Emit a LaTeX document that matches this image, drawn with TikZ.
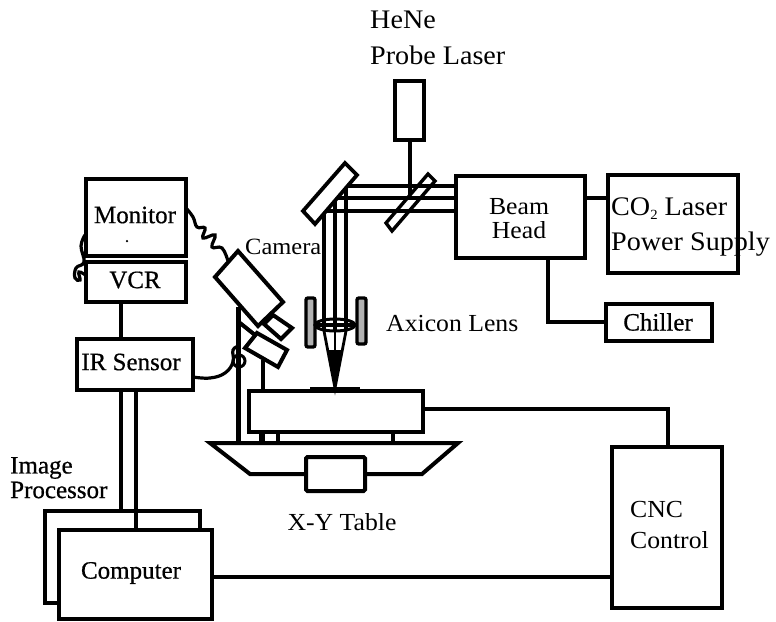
\documentclass[tikz,border=0pt]{standalone}
\usepackage{fontspec}
\setmainfont[FakeStretch=1.05]{Liberation Serif}
\newfontfamily\lblbold[FakeBold=0.6]{Liberation Serif}
\begin{document}
\begin{tikzpicture}[x=1pt,y=-1pt,
  line join=miter,
  box/.style={draw=black,line width=4pt,fill=white,inner sep=0pt,rectangle},
  wire/.style={draw=black,line width=4pt},
  thinwire/.style={draw=black,line width=3.2pt},
  beamline/.style={draw=black,line width=3.4pt},
  lbl/.style={inner sep=0pt,font=\fontsize{24.5}{26}\selectfont,text=black},
  lblbig/.style={inner sep=0pt,font=\fontsize{26.8}{28}\selectfont,text=black},
  lblsmall/.style={inner sep=0pt,font=\fontsize{23.3}{25}\selectfont,text=black},
  lblb/.style={inner sep=0pt,font=\fontsize{25}{26}\lblbold,text=black},
  plate/.style={draw=black,line width=3.4pt,fill=black!30,rounded corners=2pt}]
\useasboundingbox (0,0) rectangle (776,621);

% image processor + computer
\node[box,minimum width=155pt,minimum height=92pt] (proc) at (122.5,557) {};
\node[box,minimum width=153pt,minimum height=89pt] (comp) at (135.5,574.5) {};
\node[lblb] (compT) at (131,573) {Computer};

% monitor chain
\node[box,minimum width=100pt,minimum height=77pt] (mon) at (136,217.5) {};
\node[box,minimum width=100pt,minimum height=40pt] (vcr) at (136,282) {};
\node[box,minimum width=116pt,minimum height=51pt] (ir) at (135,364.5) {};
\node[lblb] (monT) at (135,215) {Monitor};
\node[lblb] (vcrT) at (135,280) {VCR};
\node[lblb] (irT) at (131,362) {IR Sensor};
\node[circle,fill=black,inner sep=0pt,minimum size=2.5pt] (dot) at (127,241) {};

\coordinate (a1) at (121,302);
\draw[wire] (a1) -- (a1 |- ir.north);
\coordinate (a2) at (121,390);
\draw[wire] (a2) -- (a2 |- proc.north);
\coordinate (a3) at (136,390);
\draw[wire] (a3) -- (a3 |- comp.north);

% CNC etc
\node[box,minimum width=110pt,minimum height=161pt] (cnc) at (667,527.5) {};
\node[lbl,anchor=west] (cncT) at (630,510) {CNC};
\node[lbl,anchor=west] (ctrlT) at (630,540) {Control};
\coordinate (c577) at (0,577);
\draw[wire] (comp.east |- c577) -- (cnc.west |- c577);

% table
\node[box,minimum width=174pt,minimum height=41pt] (tbl) at (336,411.5) {};
\draw[wire,fill=white] (210,443) -- (458,443) -- (422,474) -- (250,474) -- cycle;
\node[box,minimum width=59pt,minimum height=34pt,rounded corners=1.5pt] (xy) at (335.5,474) {};
\node[lbl] (xyT) at (342,522) {X-Y Table};
\coordinate (t409) at (668,409);
\draw[wire] (tbl.east |- t409) -- (t409) -- (t409 |- cnc.north);
\draw[line width=5.5pt] (262,432) -- (262,442);
\draw[line width=3.5pt] (278,432) -- (278,442);
\draw[line width=3.5pt] (393,432) -- (393,442);
\draw[line width=5pt] (310,389) -- (360,389);

% post and camera
\draw[line width=5pt] (238,307) -- (238,443);
\draw[wire] (263,360) -- (263,391);
\draw[wire] (240,323) -- (255,335);
\draw[wire,fill=white] (257,333) -- (287,350) -- (278,367) -- (245,348) -- cycle;
\draw[wire,fill=white] (273,315) -- (292,328) -- (281,339) -- (264,324) -- cycle;
\draw[wire,fill=white] (238,251) -- (283,302) -- (258,326) -- (215,277) -- cycle;
\coordinate (camtop) at (228,261);
\coordinate (monr) at (186,208);
\node[lblsmall,anchor=west] (camT) at (245,247) {Camera};

% squiggle monitor to camera
\draw[thinwire] plot[smooth,tension=0.7] coordinates {(monr) (193,217) (197,227) (205,228) (203,238) (215,235) (212,247) (222,248) (camtop)};
% monitor/VCR loop
\draw[thinwire] plot[smooth,tension=0.7] coordinates {(85,235) (81,246) (84,262) (76,268) (75,278) (80,280) (79,272) (87,276)};
% IR sensor to post
\draw[thinwire] plot[smooth,tension=0.7] coordinates {(193,377) (210,378) (225,373) (233,362) (233,350) (239,346)};
\draw[line width=3pt] (239,361) circle (6pt);

% beam head
\node[box,minimum width=129pt,minimum height=82pt] (bh) at (520.5,217) {};
\node[lbl] (bhA) at (519,207) {Beam};
\node[lbl] (bhB) at (519,230) {Head};
\node[box,minimum width=130pt,minimum height=98pt] (co2) at (673,224) {};
\node[lblbig,anchor=base west] (co2T) at (611,215) {CO\raisebox{-4pt}{\fontsize{14}{14}\selectfont 2} Laser};
\node[lblbig,anchor=base west] (psT) at (611,250) {Power Supply};
\node[box,minimum width=106pt,minimum height=37pt] (ch) at (659,322.5) {};
\node[lblb] (chT) at (658,322) {Chiller};
\coordinate (c198) at (0,198);
\draw[wire] (bh.east |- c198) -- (co2.west |- c198);
\coordinate (c322) at (548,322);
\draw[wire] (c322 |- bh.south) -- (c322) -- (ch.west |- c322);

% HeNe
\node[box,minimum width=29pt,minimum height=59pt] (he) at (409.5,110.5) {};
\node[lblbig,anchor=west] (heT) at (370,20) {HeNe};
\node[lblbig,anchor=west] (prT) at (370,55) {Probe Laser};
\coordinate (c196) at (0,196);
\draw[wire] (he.south) -- (he.south |- c196);

% splitter
\draw[line width=3.4pt,fill=white] (428,174) -- (435,181) -- (392,231) -- (386,223) -- cycle;
\coordinate (b1) at (346,186);
\coordinate (b2) at (335,198);
\coordinate (b3) at (324,211);
\coordinate (lc) at (335,325);
% beams
\draw[beamline] (bh.west |- b1) -- (b1) -- (b1 |- lc);
\draw[beamline] (bh.west |- b2) -- (b2) -- (b2 |- lc);
\draw[beamline] (bh.west |- b3) -- (b3) -- (b3 |- lc);
% mirror
\draw[line width=3.8pt,fill=white] (345,163) -- (357,175) -- (315,224) -- (303,211) -- cycle;

% lens
\draw[plate] (306,298) rectangle (315,347);
\draw[plate] (357,298) rectangle (366,344);
\draw[line width=3pt,fill=white] (335,325) ellipse (20pt and 6pt);
\draw[beamline] (b1 |- lc) ++(0,-6) -- ++(0,12);
\draw[beamline] (b2 |- lc) ++(0,-6) -- ++(0,12);
\draw[beamline] (b3 |- lc) ++(0,-6) -- ++(0,12);
\draw[line width=3.4pt] (315,325) -- (357,325);
\node[lbl,anchor=west] (axT) at (386,324) {Axicon Lens};
% cone
\draw[line width=2.8pt] (324,331) -- (335,388) -- (346,331);
\draw[line width=2.8pt] (335,331) -- (335,388);
\fill[black] (328,350) -- (342,350) -- (335,390) -- cycle;

% image processor label
\node[lblb,anchor=west] (imT) at (10,468) {Image};
\node[lblb,anchor=west] (prcT) at (10,490) {Processor};
\end{tikzpicture}
\end{document}
